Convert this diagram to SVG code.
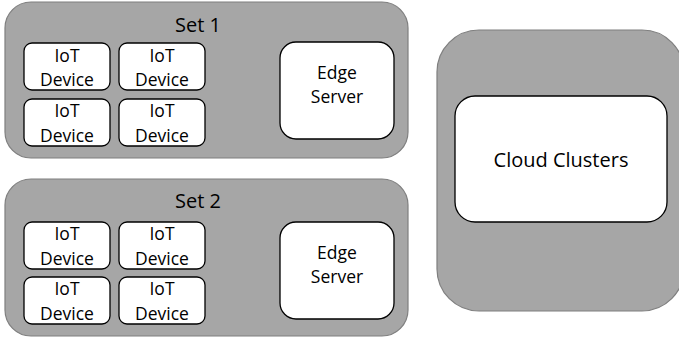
<svg xmlns="http://www.w3.org/2000/svg" width="679" height="339" viewBox="0 0 679 339">
<style>
.grp{fill:#a6a6a6;stroke:#7f7f7f;stroke-width:1.2}
.box{fill:#ffffff;stroke:#000000;stroke-width:1.3}
text{font-family:"Open Sans","Liberation Sans",sans-serif;fill:#000;text-anchor:middle}
.t{font-size:17.5px}
.h{font-size:20px}
</style>
<rect width="679" height="339" fill="#ffffff"/>
<g id="set1">
<rect class="grp" x="5" y="2" width="403" height="156" rx="26"/>
<text class="h" x="198" y="32">Set 1</text>
</g>
<g id="set1-iot1"><rect class="box" x="24" y="43" width="86" height="47" rx="8"/><text class="t" x="67" y="62">IoT</text><text class="t" x="67" y="86">Device</text></g>
<g id="set1-iot2"><rect class="box" x="119" y="43" width="86" height="47" rx="8"/><text class="t" x="162" y="62">IoT</text><text class="t" x="162" y="86">Device</text></g>
<g id="set1-iot3"><rect class="box" x="24" y="99" width="86" height="47" rx="8"/><text class="t" x="67" y="117">IoT</text><text class="t" x="67" y="142">Device</text></g>
<g id="set1-iot4"><rect class="box" x="119" y="99" width="86" height="47" rx="8"/><text class="t" x="162" y="117">IoT</text><text class="t" x="162" y="142">Device</text></g>
<g id="set1-edge"><rect class="box" x="280" y="42" width="114" height="97" rx="16"/><text class="t" x="337" y="79">Edge</text><text class="t" x="337" y="103">Server</text></g>
<g id="set2">
<rect class="grp" x="5" y="179" width="403" height="157" rx="26"/>
<text class="h" x="198" y="208">Set 2</text>
</g>
<g id="set2-iot1"><rect class="box" x="24" y="222" width="86" height="47" rx="8"/><text class="t" x="67" y="240">IoT</text><text class="t" x="67" y="265">Device</text></g>
<g id="set2-iot2"><rect class="box" x="119" y="222" width="86" height="47" rx="8"/><text class="t" x="162" y="240">IoT</text><text class="t" x="162" y="265">Device</text></g>
<g id="set2-iot3"><rect class="box" x="24" y="277" width="86" height="47" rx="8"/><text class="t" x="67" y="295">IoT</text><text class="t" x="67" y="320">Device</text></g>
<g id="set2-iot4"><rect class="box" x="119" y="277" width="86" height="47" rx="8"/><text class="t" x="162" y="295">IoT</text><text class="t" x="162" y="320">Device</text></g>
<g id="set2-edge"><rect class="box" x="280" y="222" width="114" height="97" rx="16"/><text class="t" x="337" y="259">Edge</text><text class="t" x="337" y="283">Server</text></g>
<g id="cloud">
<rect class="grp" x="437" y="30" width="247" height="281" rx="42"/>
<rect class="box" x="455" y="96" width="212" height="126" rx="20"/>
<text class="h" x="561" y="167">Cloud Clusters</text>
</g>
<g id="connectors"></g>
</svg>
